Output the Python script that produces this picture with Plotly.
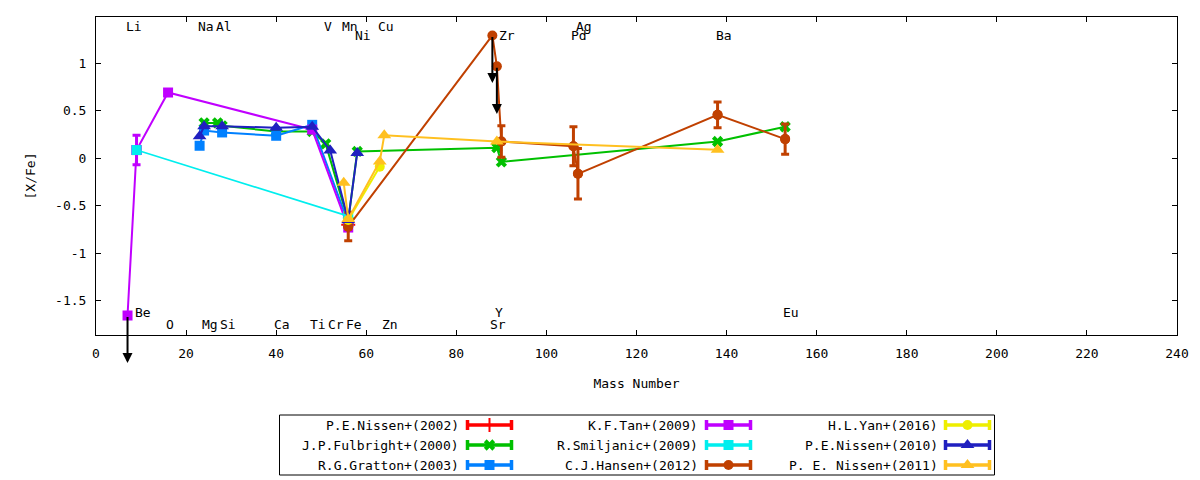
import plotly.graph_objects as go

# mass number (x) and [X/Fe] (y) for each study
nissen02_mass = [56]
nissen02_val = [-0.70]

fulbright_mass = [24, 27, 28, 40, 48, 51, 56, 58, 89, 90, 138, 153]
fulbright_val = [0.37, 0.37, 0.34, 0.28, 0.28, 0.15, -0.66, 0.07, 0.11, -0.04, 0.175, 0.33]

gratton_mass = [23, 24, 28, 40, 48, 56]
gratton_val = [0.13, 0.29, 0.27, 0.235, 0.35, -0.68]

tan_mass = [7, 9, 16, 48, 56]
tan_val = [-1.655, 0.085, 0.69, 0.30, -0.73]
tan_err = [None, 0.155, None, None, None]
tan_limit = [True, False, False, False, False]

smiljanic_mass = [9, 56]
smiljanic_val = [0.085, -0.61]

hansen_mass = [56, 88, 89, 90, 106, 107, 138, 153]
hansen_val = [-0.72, 1.29, 0.965, 0.175, 0.125, -0.165, 0.455, 0.20]
hansen_err = [0.15, None, None, 0.165, 0.205, 0.265, 0.135, 0.16]
hansen_limit = [False, True, True, False, False, False, False, False]

yan_mass = [56, 63]
yan_val = [-0.65, -0.09]

nissen10_mass = [23, 24, 28, 40, 48, 52, 56, 58]
nissen10_val = [0.23, 0.335, 0.335, 0.32, 0.33, 0.08, -0.65, 0.055]

nissen11_mass = [55, 56, 63, 64, 89, 138]
nissen11_val = [-0.26, -0.64, -0.035, 0.24, 0.175, 0.087]

# element labels along the top and bottom of the frame
elem_names = ["Li", "Be", "O", "Na", "Mg", "Al", "Si", "Ca", "Ti", "V", "Cr", "Mn",
              "Fe", "Ni", "Cu", "Zn", "Sr", "Y", "Zr", "Pd", "Ag", "Ba", "Eu"]
elem_mass = [7, 9, 16, 23, 24, 27, 28, 40, 48, 51, 52, 55,
             56, 58, 63, 64, 88, 89, 90, 106, 107, 138, 153]
elem_y = [1.38, -1.62, -1.75, 1.38, -1.75, 1.38, -1.75, -1.75, -1.75, 1.38, -1.75, 1.38,
          -1.75, 1.29, 1.38, -1.75, -1.75, -1.62, 1.29, 1.29, 1.38, 1.29, -1.62]

x_ticks = [0, 20, 40, 60, 80, 100, 120, 140, 160, 180, 200, 220, 240]
y_tick_vals = [-1.5, -1, -0.5, 0, 0.5, 1]
y_tick_text = ["-1.5", "-1", "-0.5", "0", "0.5", "1"]

limit_len = 0.5  # length of the upper-limit arrows

FONT = "DejaVu Sans Mono"

series = [
    ("P.E.Nissen+(2002)", nissen02_mass, nissen02_val, None, None, "#ff0000", "cross-thin-open"),
    ("J.P.Fulbright+(2000)", fulbright_mass, fulbright_val, None, None, "#00c000", "x"),
    ("R.G.Gratton+(2003)", gratton_mass, gratton_val, None, None, "#0080ff", "square"),
    ("K.F.Tan+(2009)", tan_mass, tan_val, tan_err, tan_limit, "#c000ff", "square"),
    ("R.Smiljanic+(2009)", smiljanic_mass, smiljanic_val, None, None, "#00eeee", "square"),
    ("C.J.Hansen+(2012)", hansen_mass, hansen_val, hansen_err, hansen_limit, "#c04000", "circle"),
    ("H.L.Yan+(2016)", yan_mass, yan_val, None, None, "#eeee00", "circle"),
    ("P.E.Nissen+(2010)", nissen10_mass, nissen10_val, None, None, "#2020c0", "triangle-up"),
    ("P. E. Nissen+(2011)", nissen11_mass, nissen11_val, None, None, "#ffc020", "triangle-up"),
]


def marker_of(color, symbol):
    thin = symbol.endswith("-open")
    size = 12 if symbol.startswith("triangle") else 10
    return dict(symbol=symbol, size=size, color=color,
                line=dict(color=color, width=2 if thin else 0))


fig = go.Figure()
annotations = []

for name, xs, ys, errs, limits, color, symbol in series:
    fig.add_trace(go.Scatter(
        x=xs, y=ys, mode="lines+markers", name=name,
        line=dict(color=color, width=1.6 if color == "#00eeee" else 2),
        marker=marker_of(color, symbol), showlegend=False))
    if errs:
        ex = [x for x, e in zip(xs, errs) if e is not None]
        ey = [y for y, e in zip(ys, errs) if e is not None]
        ee = [e for e in errs if e is not None]
        fig.add_trace(go.Scatter(
            x=ex, y=ey, mode="markers", marker=marker_of(color, symbol),
            error_y=dict(type="data", array=ee, color=color, thickness=3, width=4),
            showlegend=False))
    if limits:
        for x, y, lim in zip(xs, ys, limits):
            if lim:
                annotations.append(dict(
                    x=x, y=y - limit_len, ax=x, ay=y, xref="x", yref="y",
                    axref="x", ayref="y", text="", showarrow=True,
                    arrowhead=2, arrowsize=1, arrowwidth=2, arrowcolor="black"))

for nm, m, y in zip(elem_names, elem_mass, elem_y):
    annotations.append(dict(x=m, y=y, xref="x", yref="y", text=nm, showarrow=False,
                            xanchor="left", yanchor="middle", xshift=-4,
                            font=dict(family=FONT, size=13, color="black")))

# key box below the plot, laid out in pixel units on a hidden overlay axis
key_text_right = [458, 697, 937]
key_sample_mid = [489.5, 728.5, 967.5]
key_rows = [425, 445, 465]
for i, (name, xs, ys, errs, limits, color, symbol) in enumerate(series):
    col, row = i // 3, i % 3
    fig.add_trace(go.Scatter(
        x=[key_sample_mid[col]], y=[key_rows[row]], mode="markers",
        marker=marker_of(color, symbol),
        error_x=dict(type="data", array=[22], color=color, thickness=3.5, width=5),
        xaxis="x2", yaxis="y2", showlegend=False, hoverinfo="skip"))
    annotations.append(dict(x=key_text_right[col] + 3, y=key_rows[row], xref="x2", yref="y2",
                            text=name, showarrow=False, xanchor="right", yanchor="middle",
                            font=dict(family=FONT, size=13, color="black")))

axis_common = dict(showline=True, linecolor="black", linewidth=1, mirror="ticks",
                   ticks="inside", ticklen=5, tickcolor="black", showgrid=False,
                   zeroline=False, tickfont=dict(family=FONT, size=13, color="black"))
title_font = dict(family=FONT, size=13, color="black")

fig.update_layout(
    width=1200, height=480,
    margin=dict(l=96, r=23, t=17, b=3),
    paper_bgcolor="white", plot_bgcolor="rgba(0,0,0,0)",
    font=dict(family=FONT, size=13, color="black"),
    showlegend=False,
    xaxis=dict(range=[0, 240], tickvals=x_ticks, ticklabelstandoff=6,
               title=dict(text="Mass Number", standoff=19, font=title_font), **axis_common),
    yaxis=dict(domain=[0.3087, 1], range=[-1.86, 1.484], tickvals=y_tick_vals,
               ticktext=y_tick_text, ticklabelstandoff=6,
               title=dict(text="[X/Fe]", standoff=16, font=title_font), **axis_common),
    xaxis2=dict(domain=[0, 1], range=[96, 1177], visible=False, anchor="y2"),
    yaxis2=dict(domain=[0, 1], range=[477, 17], visible=False, anchor="x2"),
    shapes=[dict(type="rect", xref="x2", yref="y2", x0=279.5, x1=994.5, y0=415, y1=475,
                 line=dict(color="black", width=1))],
    annotations=annotations,
)

# drop the browser's default page margin so the figure sits at the window corner
fig.write_html("out.html", config={"displayModeBar": False},
               post_script="document.body.style.margin='0';")
